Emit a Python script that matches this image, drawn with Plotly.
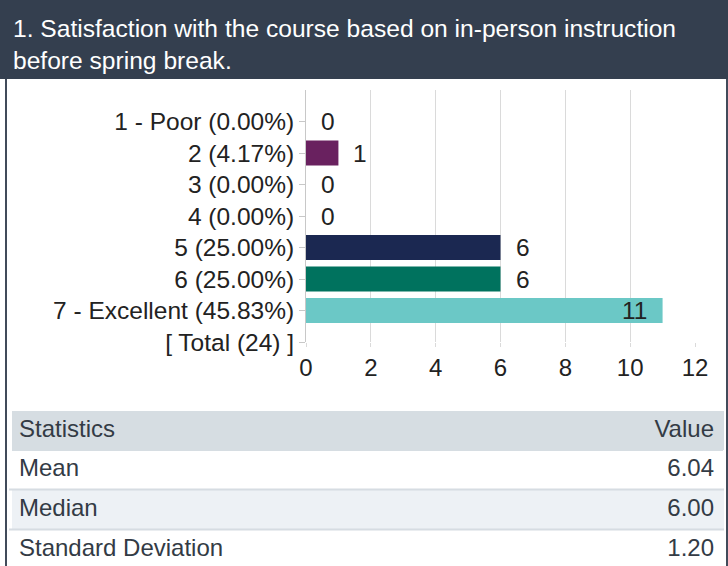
import plotly.graph_objects as go

W, H = 728, 566

title = "1. Satisfaction with the course based on in-person instruction<br>before spring break."
ratings = ["1 - Poor", "2", "3", "4", "5", "6", "7 - Excellent"]
counts = [0, 1, 0, 0, 6, 6, 11]
bar_colors = ["#69215f", "#69215f", "#1b2851", "#1b2851", "#1b2851", "#00725e", "#6bc8c6"]

stat_names = ["Mean", "Median", "Standard Deviation"]
stat_values = ["6.04", "6.00", "1.20"]

total = sum(counts)
cat_labels = [f"{r} ({c / total * 100:.2f}%)" for r, c in zip(ratings, counts)]
cat_labels.append(f"[ Total ({total}) ]")

FONT = "Liberation Sans, Arial, sans-serif"
X_MAX = 12
row_fills = ["#ffffff", "#edf1f5", "#ffffff"]


def px_x(p):
    return p / W


def px_y(p):
    return 1 - p / H


fig = go.Figure()

fig.add_trace(go.Bar(
    x=counts,
    y=cat_labels[:-1],
    orientation="h",
    width=0.8,
    marker=dict(color=bar_colors, line=dict(width=0)),
    hoverinfo="skip",
    showlegend=False,
))

# value labels: outside the bar unless there is no room left
annotations = []
for lab, c in zip(cat_labels[:-1], counts):
    fits = c + 1.5 <= X_MAX
    annotations.append(dict(
        x=c, y=lab, xref="x", yref="y", text=str(c), showarrow=False,
        xanchor="left" if fits else "right", xshift=13 if fits else -14,
        font=dict(family=FONT, size=24.5, color="#222222"),
    ))

annotations.append(dict(
    x=px_x(11), y=px_y(44), xref="paper", yref="paper", text=title,
    showarrow=False, xanchor="left", yanchor="middle", align="left",
    font=dict(family=FONT, size=24.6, color="#ffffff"),
))

fig.add_trace(go.Table(
    domain=dict(x=[px_x(11), px_x(722)], y=[0, px_y(411)]),
    columnwidth=[3, 1],
    header=dict(
        values=["Statistics", "Value"],
        align=["left", "right"],
        fill_color="#d6dde2",
        line=dict(width=1, color="#d6dde2"),
        height=39,
        font=dict(family=FONT, size=24, color="#333b45"),
    ),
    cells=dict(
        values=[stat_names, stat_values],
        align=["left", "right"],
        fill_color=[row_fills] * 2,
        line=dict(width=1, color=[row_fills] * 2),
        height=40,
        font=dict(family=FONT, size=24, color="#333b45"),
    ),
))

shapes = [
    dict(type="rect", xref="paper", yref="paper", x0=0, x1=1, y0=px_y(79), y1=1,
         fillcolor="#343f4f", line=dict(width=0), layer="below"),
    dict(type="rect", xref="paper", yref="paper", x0=px_x(9), x1=px_x(12), y0=0, y1=px_y(411),
         fillcolor="#ffffff", line=dict(width=0)),
    dict(type="rect", xref="paper", yref="paper", x0=px_x(721), x1=px_x(724), y0=px_y(450), y1=px_y(411),
         fillcolor="#d6dde2", line=dict(width=0)),
    dict(type="rect", xref="paper", yref="paper", x0=px_x(721), x1=px_x(724), y0=px_y(530), y1=px_y(490),
         fillcolor="#edf1f5", line=dict(width=0)),
    dict(type="line", xref="paper", yref="paper", x0=px_x(6), x1=px_x(6), y0=0, y1=px_y(79),
         line=dict(color="#414b5a", width=2)),
    dict(type="line", xref="paper", yref="paper", x0=px_x(727), x1=px_x(727), y0=0, y1=px_y(79),
         line=dict(color="#414b5a", width=2)),
]
for yy in [489.5, 529.5]:
    shapes.append(dict(type="line", xref="paper", yref="paper", x0=px_x(9), x1=px_x(724),
                       y0=px_y(yy), y1=px_y(yy), line=dict(color="#d6dce2", width=2)))

fig.update_layout(
    width=W, height=H,
    margin=dict(l=0, r=0, t=0, b=0),
    paper_bgcolor="#ffffff",
    plot_bgcolor="#ffffff",
    font=dict(family=FONT, size=24, color="#222222"),
    bargap=0.2,
    annotations=annotations,
    shapes=shapes,
    xaxis=dict(
        domain=[px_x(306), px_x(695)],
        range=[0, X_MAX], dtick=2, automargin=False,
        showgrid=True, gridcolor="#dadada", gridwidth=1,
        zeroline=False, showline=False,
        ticks="outside", ticklen=4, tickcolor="#dadada",
        ticklabelstandoff=0,
        tickfont=dict(family=FONT, size=24, color="#222222"),
    ),
    yaxis=dict(
        domain=[px_y(342), px_y(90)],
        type="category", categoryorder="array", categoryarray=cat_labels,
        tickvals=cat_labels, range=[7, -1], automargin=False,
        showgrid=False, zeroline=False,
        showline=True, linecolor="#c8c8c8", linewidth=1,
        ticks="outside", ticklen=6, tickcolor="#c8c8c8",
        tickfont=dict(family=FONT, size=24.5, color="#222222"),
    ),
)

fig.write_html("out.html", config={"displayModeBar": False},
               post_script="document.body.style.margin='0';")
